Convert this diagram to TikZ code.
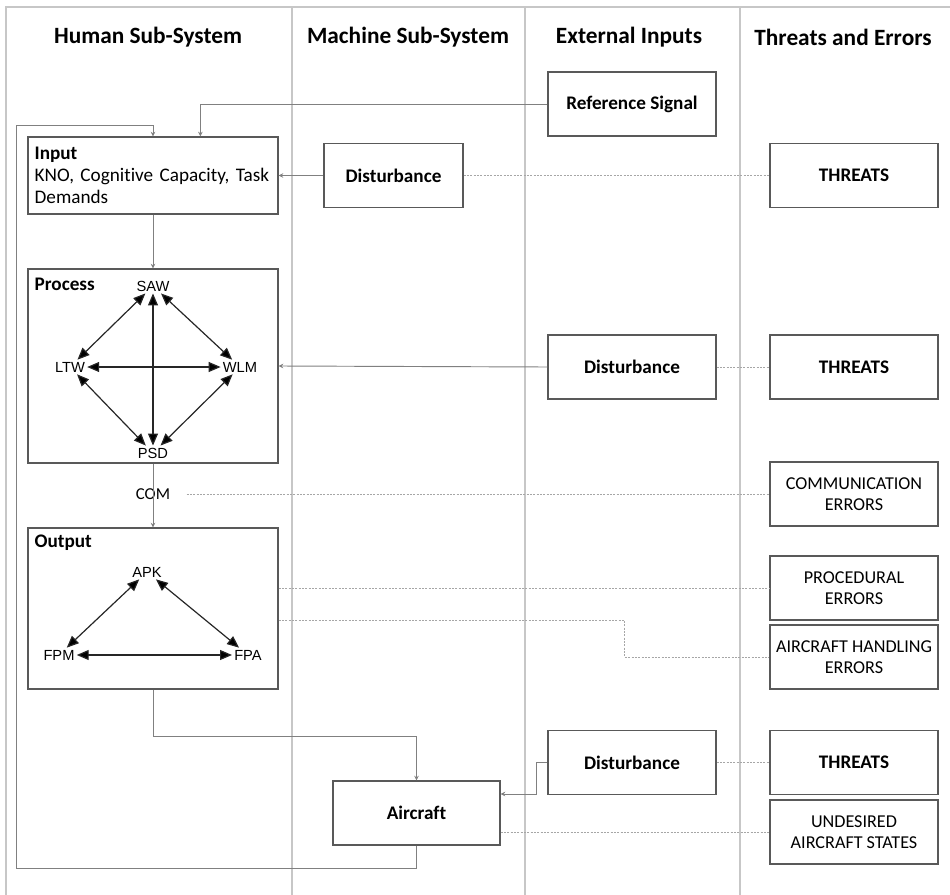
\documentclass[tikz,border=0pt]{standalone}
\usepackage{fontspec}
\setmainfont{Carlito}[Ligatures=NoCommon]
\newfontfamily\arialfont{Liberation Sans}
\usetikzlibrary{arrows.meta,calc}

\begin{document}
\begin{tikzpicture}[x=0.75pt, y=-0.75pt, >={Stealth[length=3.5pt,width=3.5pt]},
  colline/.style={draw=black!22, line width=0.8pt},
  hdr/.style={font=\fontsize{17.5}{20}\selectfont\bfseries},
  box/.style={draw=black!65, line width=0.9pt, fill=white, inner sep=2pt, align=center, minimum width=126pt, minimum height=48pt, font=\fontsize{14.4}{16.5}\selectfont\bfseries},
  capsbox/.style={box, font=\fontsize{13.6}{15.5}\selectfont},
  bigbox/.style={draw=black!65, line width=0.9pt, minimum width=187.5pt},
  lbl/.style={font=\arialfont\fontsize{11}{13}\selectfont, inner sep=1.5pt},
  conn/.style={->, draw=black!50, line width=0.7pt},
  dotline/.style={draw=black!35, line width=0.6pt, dash pattern=on 1.5pt off 1pt},
  dbl/.style={{Triangle[length=9pt,width=7.5pt]}-{Triangle[length=9pt,width=7.5pt]}, line width=0.9pt, draw=black!85}]

\useasboundingbox (0,0) rectangle (950,895);

\draw[colline] (6,895) -- (6,7) -- (950,7);
\foreach \cx in {292,525,740}
  \draw[colline] (\cx,7) -- (\cx,895);

\node[hdr] (h1) at (148,37) {Human Sub-System};
\node[hdr] (h2) at (408,37) {Machine Sub-System};
\node[hdr] (h3) at (629,37) {External Inputs};
\node[hdr] (h4) at (843,37) {Threats and Errors};

\node[box] (refsig) at (632,104) {Reference Signal};
\node[box, minimum width=104.25pt] (dist1) at (393.5,175.5) {Disturbance};
\node[box] (threat1) at (854,175.5) {THREATS};

\node[bigbox, minimum height=57.75pt, inner xsep=5pt, text width=177.5pt, align=left,
  font=\fontsize{14.4}{16.5}\selectfont] (input) at (153,175.5)
  {\textbf{Input}\\KNO, Cognitive Capacity, Task\\Demands};

\node[bigbox, minimum height=145.5pt] (process) at (153,366) {};
\node[anchor=west, inner sep=0pt, font=\fontsize{14.4}{16.5}\selectfont\bfseries] (proclbl) at ($(process.north west)+(7,16)$) {Process};
\node[lbl] (saw) at (153,286) {SAW};
\node[lbl] (ltw) at (70,367) {LTW};
\node[lbl] (wlm) at (240,367) {WLM};
\node[lbl] (psd) at (153,453) {PSD};
\path[dbl]
  (saw) edge (ltw)
  (saw) edge (wlm)
  (saw) edge (psd)
  (ltw) edge (wlm)
  (ltw) edge (psd)
  (wlm) edge (psd);

\node[box] (dist2) at (632,367) {Disturbance};
\node[box] (threat2) at (854,367) {THREATS};

\node[font=\fontsize{12.5}{14}\selectfont, inner sep=1pt] (com) at (153,494) {COM};
\node[capsbox] (comerr) at (854,494) {COMMUNICATION\\ERRORS};

\node[bigbox, minimum height=120.75pt] (output) at (153,608.5) {};
\node[anchor=west, inner sep=0pt, font=\fontsize{14.4}{16.5}\selectfont\bfseries] (outlbl) at ($(output.north west)+(7,15)$) {Output};
\node[lbl] (apk) at (147,572) {APK};
\node[lbl] (fpm) at (59,655) {FPM};
\node[lbl] (fpa) at (248,655) {FPA};
\path[dbl]
  (apk) edge (fpm)
  (apk) edge (fpa)
  (fpm) edge (fpa);

\node[capsbox] (procerr) at (854,588) {PROCEDURAL\\ERRORS};
\node[capsbox] (handerr) at (854,657) {AIRCRAFT HANDLING\\ERRORS};

\node[box] (dist3) at (632,762.5) {Disturbance};
\node[box] (threat3) at (854,762.5) {THREATS};
\node[box, minimum width=125.25pt] (aircraft) at (416.5,813) {Aircraft};
\node[capsbox] (undesired) at (854,832) {UNDESIRED\\AIRCRAFT STATES};

\coordinate (loopcorner) at (16,125);

\draw[conn] (refsig.west) -| ($(input.north west)+(173,0)$);
\draw[conn] (aircraft.south) -- ++(0,23) -| (loopcorner) -| (input.north);
\draw[conn] (dist1.west) -- (input.east |- dist1.west);
\draw[conn] (input.south) -- (process.north);
\draw[conn] (dist2.west) -- (process.east);
\draw[conn] (process.south) -- (output.north);
\draw[conn] (output.south) -- ++(0,47) -| (aircraft.north);
\draw[conn] (dist3.west) -- ++(-11,0) |- ($(aircraft.east)+(0,-19)$);

\path[dotline]
  (dist1.east) edge (threat1.west)
  (dist2.east) edge (threat2.west)
  (dist3.east) edge (threat3.west);
\draw[dotline] ($(com.east)+(15,0)$) -- (comerr.west);
\draw[dotline] (output.east |- procerr.west) -- (procerr.west);
\draw[dotline] ($(output.east)+(0,11.5)$) -| ($(handerr.west)+(-145,0)$) -- (handerr.west);
\draw[dotline] (undesired.west -| aircraft.east) -- (undesired.west);

\end{tikzpicture}
\end{document}
